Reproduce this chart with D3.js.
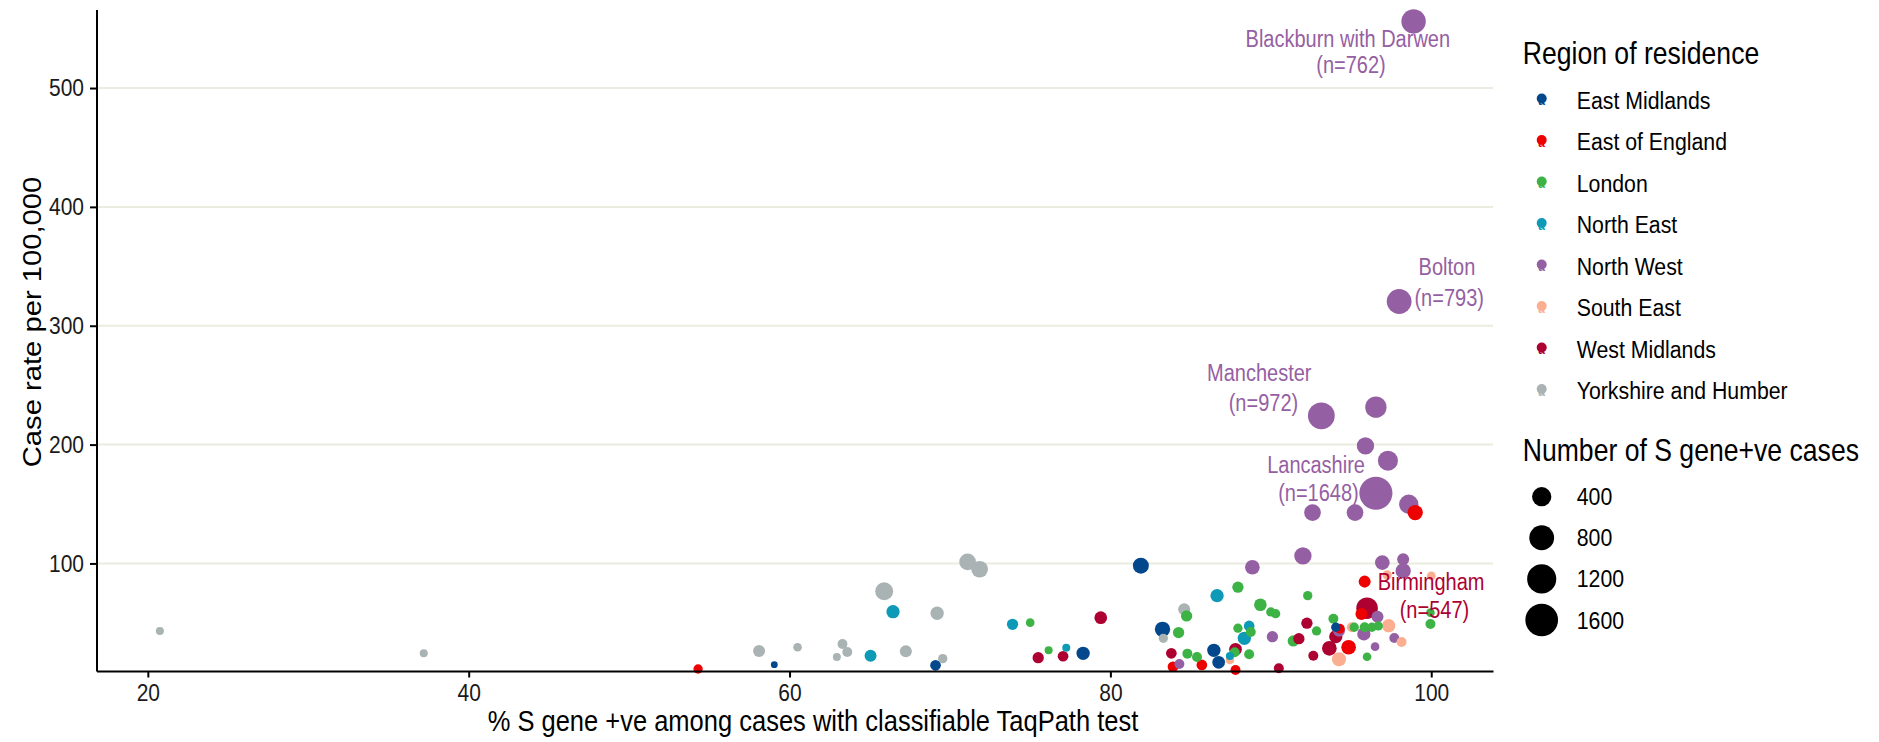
<!DOCTYPE html>
<html>
<head>
<meta charset="utf-8">
<script src="https://cdn.jsdelivr.net/npm/d3@7/dist/d3.min.js"></script>
<style>
body { margin: 0; background: #fff; }
svg text { font-family: "Liberation Sans", Arial, sans-serif; }
</style>
</head>
<body>
<div id="chart"></div>
<script>

// regions and their colours (legend order)
var regionNames = ["East Midlands", "East of England", "London", "North East",
                   "North West", "South East", "West Midlands", "Yorkshire and Humber"];
var regionColours = ["#03478c", "#ee0000", "#3db346", "#0c9ab7",
                     "#9560a3", "#fcae91", "#ad0131", "#aab3b3"];

// each point: [% S gene +ve, case rate per 100,000, number of S gene+ve cases]
var eastMidlands = [[59.05, 14.8, 2], [69.1, 14.3, 51], [78.3, 24.4, 122], [81.9, 98.1, 227],
                    [83.25, 44.6, 197], [86.45, 26.9, 122], [86.75, 16.8, 103], [94.05, 46.3, 26]];
var eastOfEngland = [[54.3, 11.2, 26], [83.9, 13.1, 51], [85.7, 14.6, 51], [87.8, 10.4, 37],
                     [94.85, 29.5, 172], [94.3, 45.1, 37], [95.65, 57.5, 83], [95.85, 84.7, 83],
                     [99.0, 142.8, 197]];
var london = [[75.0, 50.2, 17], [76.15, 26.9, 10], [84.75, 55.8, 65], [84.25, 41.8, 65],
              [84.8, 24.1, 37], [85.4, 21.3, 37], [87.95, 80.0, 65], [89.35, 65.3, 100],
              [87.75, 25.3, 37], [87.95, 45.5, 26], [88.75, 42.3, 37], [88.65, 23.6, 37],
              [92.3, 72.9, 26], [90.0, 59.2, 26], [90.3, 57.7, 26], [91.4, 34.8, 65],
              [92.85, 43.2, 26], [93.9, 53.5, 37], [95.2, 46.3, 26], [96.0, 21.5, 17],
              [95.85, 46.3, 37], [96.3, 46.3, 26], [96.7, 47.4, 26], [99.95, 58.6, 17],
              [99.95, 49.1, 37]];
var northEast = [[65.05, 22.4, 83], [66.45, 59.4, 122], [73.9, 48.8, 65], [77.25, 29.1, 10],
                 [86.65, 72.9, 122], [87.45, 22.1, 10], [88.65, 47.4, 51], [88.35, 37.0, 122]];
var northWest = [[98.9, 556, 762], [98.0, 320.4, 793], [93.15, 224.2, 972], [96.55, 159.1, 1648],
                 [96.55, 231.5, 528], [95.9, 198.9, 290], [97.3, 186.5, 443], [92.6, 142.8, 260],
                 [95.25, 142.8, 260], [98.6, 149.8, 400], [88.85, 96.8, 172], [92.0, 106.3, 290],
                 [96.95, 100.7, 172], [98.25, 103.5, 83], [98.25, 93.7, 197], [84.3, 15.4, 37],
                 [90.1, 38.4, 65], [94.25, 43.4, 83], [96.5, 30.0, 17], [95.8, 40.7, 122],
                 [96.65, 55.2, 83], [97.7, 37.3, 37]];
var southEast = [[87.45, 18.8, 17], [94.25, 19.4, 146], [95.05, 46.3, 37], [97.35, 47.6, 122],
                 [98.15, 33.9, 37], [100.0, 89.5, 17], [97.25, 90.3, 26]];
var westMidlands = [[75.5, 20.7, 65], [77.05, 21.9, 51], [79.4, 54.4, 103], [83.8, 24.4, 51],
                    [87.8, 27.8, 103], [90.5, 11.8, 37], [91.75, 36.7, 65], [92.25, 49.7, 65],
                    [92.65, 22.4, 37], [93.65, 28.6, 172], [94.05, 38.4, 122], [96.0, 62.3, 547]];
var yorkshire = [[20.75, 43.2, 10], [37.2, 24.4, 10], [58.1, 26.3, 83], [60.5, 29.5, 17],
                 [63.3, 32.2, 37], [62.95, 21.3, 10], [63.6, 25.5, 37], [65.9, 76.6, 326],
                 [67.25, 26.1, 83], [69.55, 19.9, 26], [69.2, 58.1, 122], [71.1, 101.3, 260],
                 [71.85, 95.1, 260], [83.3, 37.0, 26], [84.6, 61.4, 83]];

var pointsByRegion = [eastMidlands, eastOfEngland, london, northEast,
                      northWest, southEast, westMidlands, yorkshire];

var xTicks = [20, 40, 60, 80, 100];
var yTicks = [100, 200, 300, 400, 500];
var sizeBreaks = [400, 800, 1200, 1600];

// annotation lines, placed in data units
var labelLines = [
    {text: "Blackburn with Darwen", region: 4, x: 94.8, y: 541.0},
    {text: "(n=762)", region: 4, x: 95.0, y: 519.5},
    {text: "Bolton", region: 4, x: 100.98, y: 349.7},
    {text: "(n=793)", region: 4, x: 101.12, y: 323.6},
    {text: "Manchester", region: 4, x: 89.28, y: 260.6},
    {text: "(n=972)", region: 4, x: 89.54, y: 234.7},
    {text: "Lancashire", region: 4, x: 92.82, y: 182.8},
    {text: "(n=1648)", region: 4, x: 92.97, y: 159.0},
    {text: "Birmingham", region: 6, x: 99.99, y: 84.6},
    {text: "(n=547)", region: 6, x: 100.2, y: 60.8}
];

var fullWidth = 1879, fullHeight = 742;
var panel = {left: 96.5, right: 1493, top: 9.6, bottom: 671};

// the original export has its lettering stretched a little vertically
var stretch = 1.15;

var x = d3.scaleLinear()
        .domain([16.8, 103.85])
        .range([panel.left, panel.right]);

var y = d3.scaleLinear()
        .domain([9.5, 566])
        .range([panel.bottom, panel.top]);

// point radius grows with sqrt of case count
var radius = d3.scalePow()
        .exponent(0.5)
        .domain([0, 1600])
        .range([2.95, 16.35]);

var svg = d3.select("#chart").append("svg")
        .attr("width", fullWidth)
        .attr("height", fullHeight);

function placed(px, py) {
    return "translate(" + px + "," + py + ") scale(1," + stretch + ")";
}

// horizontal grid lines only
svg.append("g")
        .attr("class", "grid")
        .selectAll("line")
        .data(yTicks)
        .enter().append("line")
        .attr("x1", panel.left)
        .attr("x2", panel.right)
        .attr("y1", function (d) { return y(d); })
        .attr("y2", function (d) { return y(d); })
        .attr("stroke", "#ebecdf")
        .attr("stroke-width", 2);

// flatten the regions into one list, big circles first so small ones stay visible
var points = [];
pointsByRegion.forEach(function (list, i) {
    list.forEach(function (p) {
        points.push({x: p[0], y: p[1], n: p[2], region: i});
    });
});
points.sort(function (a, b) { return b.n - a.n; });

svg.append("g")
        .attr("class", "points")
        .selectAll("circle")
        .data(points)
        .enter().append("circle")
        .attr("cx", function (d) { return x(d.x); })
        .attr("cy", function (d) { return y(d.y); })
        .attr("r", function (d) { return radius(d.n); })
        .attr("fill", function (d) { return regionColours[d.region]; });

svg.append("g")
        .attr("class", "labels")
        .selectAll("text")
        .data(labelLines)
        .enter().append("text")
        .attr("transform", function (d) { return placed(x(d.x), y(d.y)); })
        .attr("dy", "0.35em")
        .attr("text-anchor", "middle")
        .attr("font-size", 20)
        .attr("fill", function (d) { return regionColours[d.region]; })
        .text(function (d) { return d.text; });

// axes
var xAxis = d3.axisBottom(x)
        .tickValues(xTicks)
        .tickSizeInner(6.5)
        .tickSizeOuter(0)
        .tickPadding(4.8);

var yAxis = d3.axisLeft(y)
        .tickValues(yTicks)
        .tickSizeInner(6.5)
        .tickSizeOuter(0)
        .tickPadding(6);

var gx = svg.append("g")
        .attr("class", "x axis")
        .attr("transform", "translate(0," + panel.bottom + ")")
        .call(xAxis);

var gy = svg.append("g")
        .attr("class", "y axis")
        .attr("transform", "translate(" + panel.left + ",0)")
        .call(yAxis);

[gx, gy].forEach(function (g) {
    g.select(".domain").attr("stroke", "#000").attr("stroke-width", 2);
    g.selectAll(".tick line").attr("stroke", "#000").attr("stroke-width", 2);
    g.selectAll(".tick text")
        .attr("font-size", 21)
        .attr("font-family", "Liberation Sans, Arial, sans-serif")
        .attr("fill", "#1a1a1a")
        .attr("transform", "scale(1," + stretch + ")");
});

svg.append("text")
        .attr("transform", placed(813, 721))
        .attr("dy", "0.35em")
        .attr("text-anchor", "middle")
        .attr("font-size", 25.5)
        .text("% S gene +ve among cases with classifiable TaqPath test");

svg.append("text")
        .attr("transform", "translate(32,322) rotate(-90) scale(" + stretch + ",1)")
        .attr("dy", "0.35em")
        .attr("text-anchor", "middle")
        .attr("font-size", 25.4)
        .text("Case rate per 100,000");

// legend: colour
var legX = 1522.7, keyX = 1541.7, textX = 1576.7;

var legColour = svg.append("g").attr("class", "legend colour");

legColour.append("text")
        .attr("transform", placed(legX, 53.3))
        .attr("dy", "0.35em")
        .attr("font-size", 26.6)
        .text("Region of residence");

var rows = legColour.selectAll("g.row")
        .data(regionNames)
        .enter().append("g")
        .attr("class", "row")
        .attr("transform", function (d, i) { return "translate(0," + (100 + i * 41.5) + ")"; });

rows.append("circle")
        .attr("cx", keyX)
        .attr("cy", -1.5)
        .attr("r", 5)
        .attr("fill", function (d, i) { return regionColours[i]; });

rows.append("text")
        .attr("transform", placed(keyX, 5))
        .attr("text-anchor", "middle")
        .attr("font-size", 12)
        .attr("font-weight", "bold")
        .attr("fill", function (d, i) { return regionColours[i]; })
        .text("a");

rows.append("text")
        .attr("transform", placed(textX, 0))
        .attr("dy", "0.35em")
        .attr("font-size", 21.3)
        .text(function (d) { return d; });

// legend: size
var legSize = svg.append("g").attr("class", "legend size");

legSize.append("text")
        .attr("transform", placed(legX, 450))
        .attr("dy", "0.35em")
        .attr("font-size", 26.6)
        .text("Number of S gene+ve cases");

var sizeRows = legSize.selectAll("g.row")
        .data(sizeBreaks)
        .enter().append("g")
        .attr("class", "row")
        .attr("transform", function (d, i) { return "translate(0," + (496.7 + i * 41.1) + ")"; });

sizeRows.append("circle")
        .attr("cx", keyX)
        .attr("cy", 0)
        .attr("r", function (d) { return radius(d); })
        .attr("fill", "#000");

sizeRows.append("text")
        .attr("transform", placed(textX, 0))
        .attr("dy", "0.35em")
        .attr("font-size", 21.3)
        .text(function (d) { return d; });

</script>
</body>
</html>
